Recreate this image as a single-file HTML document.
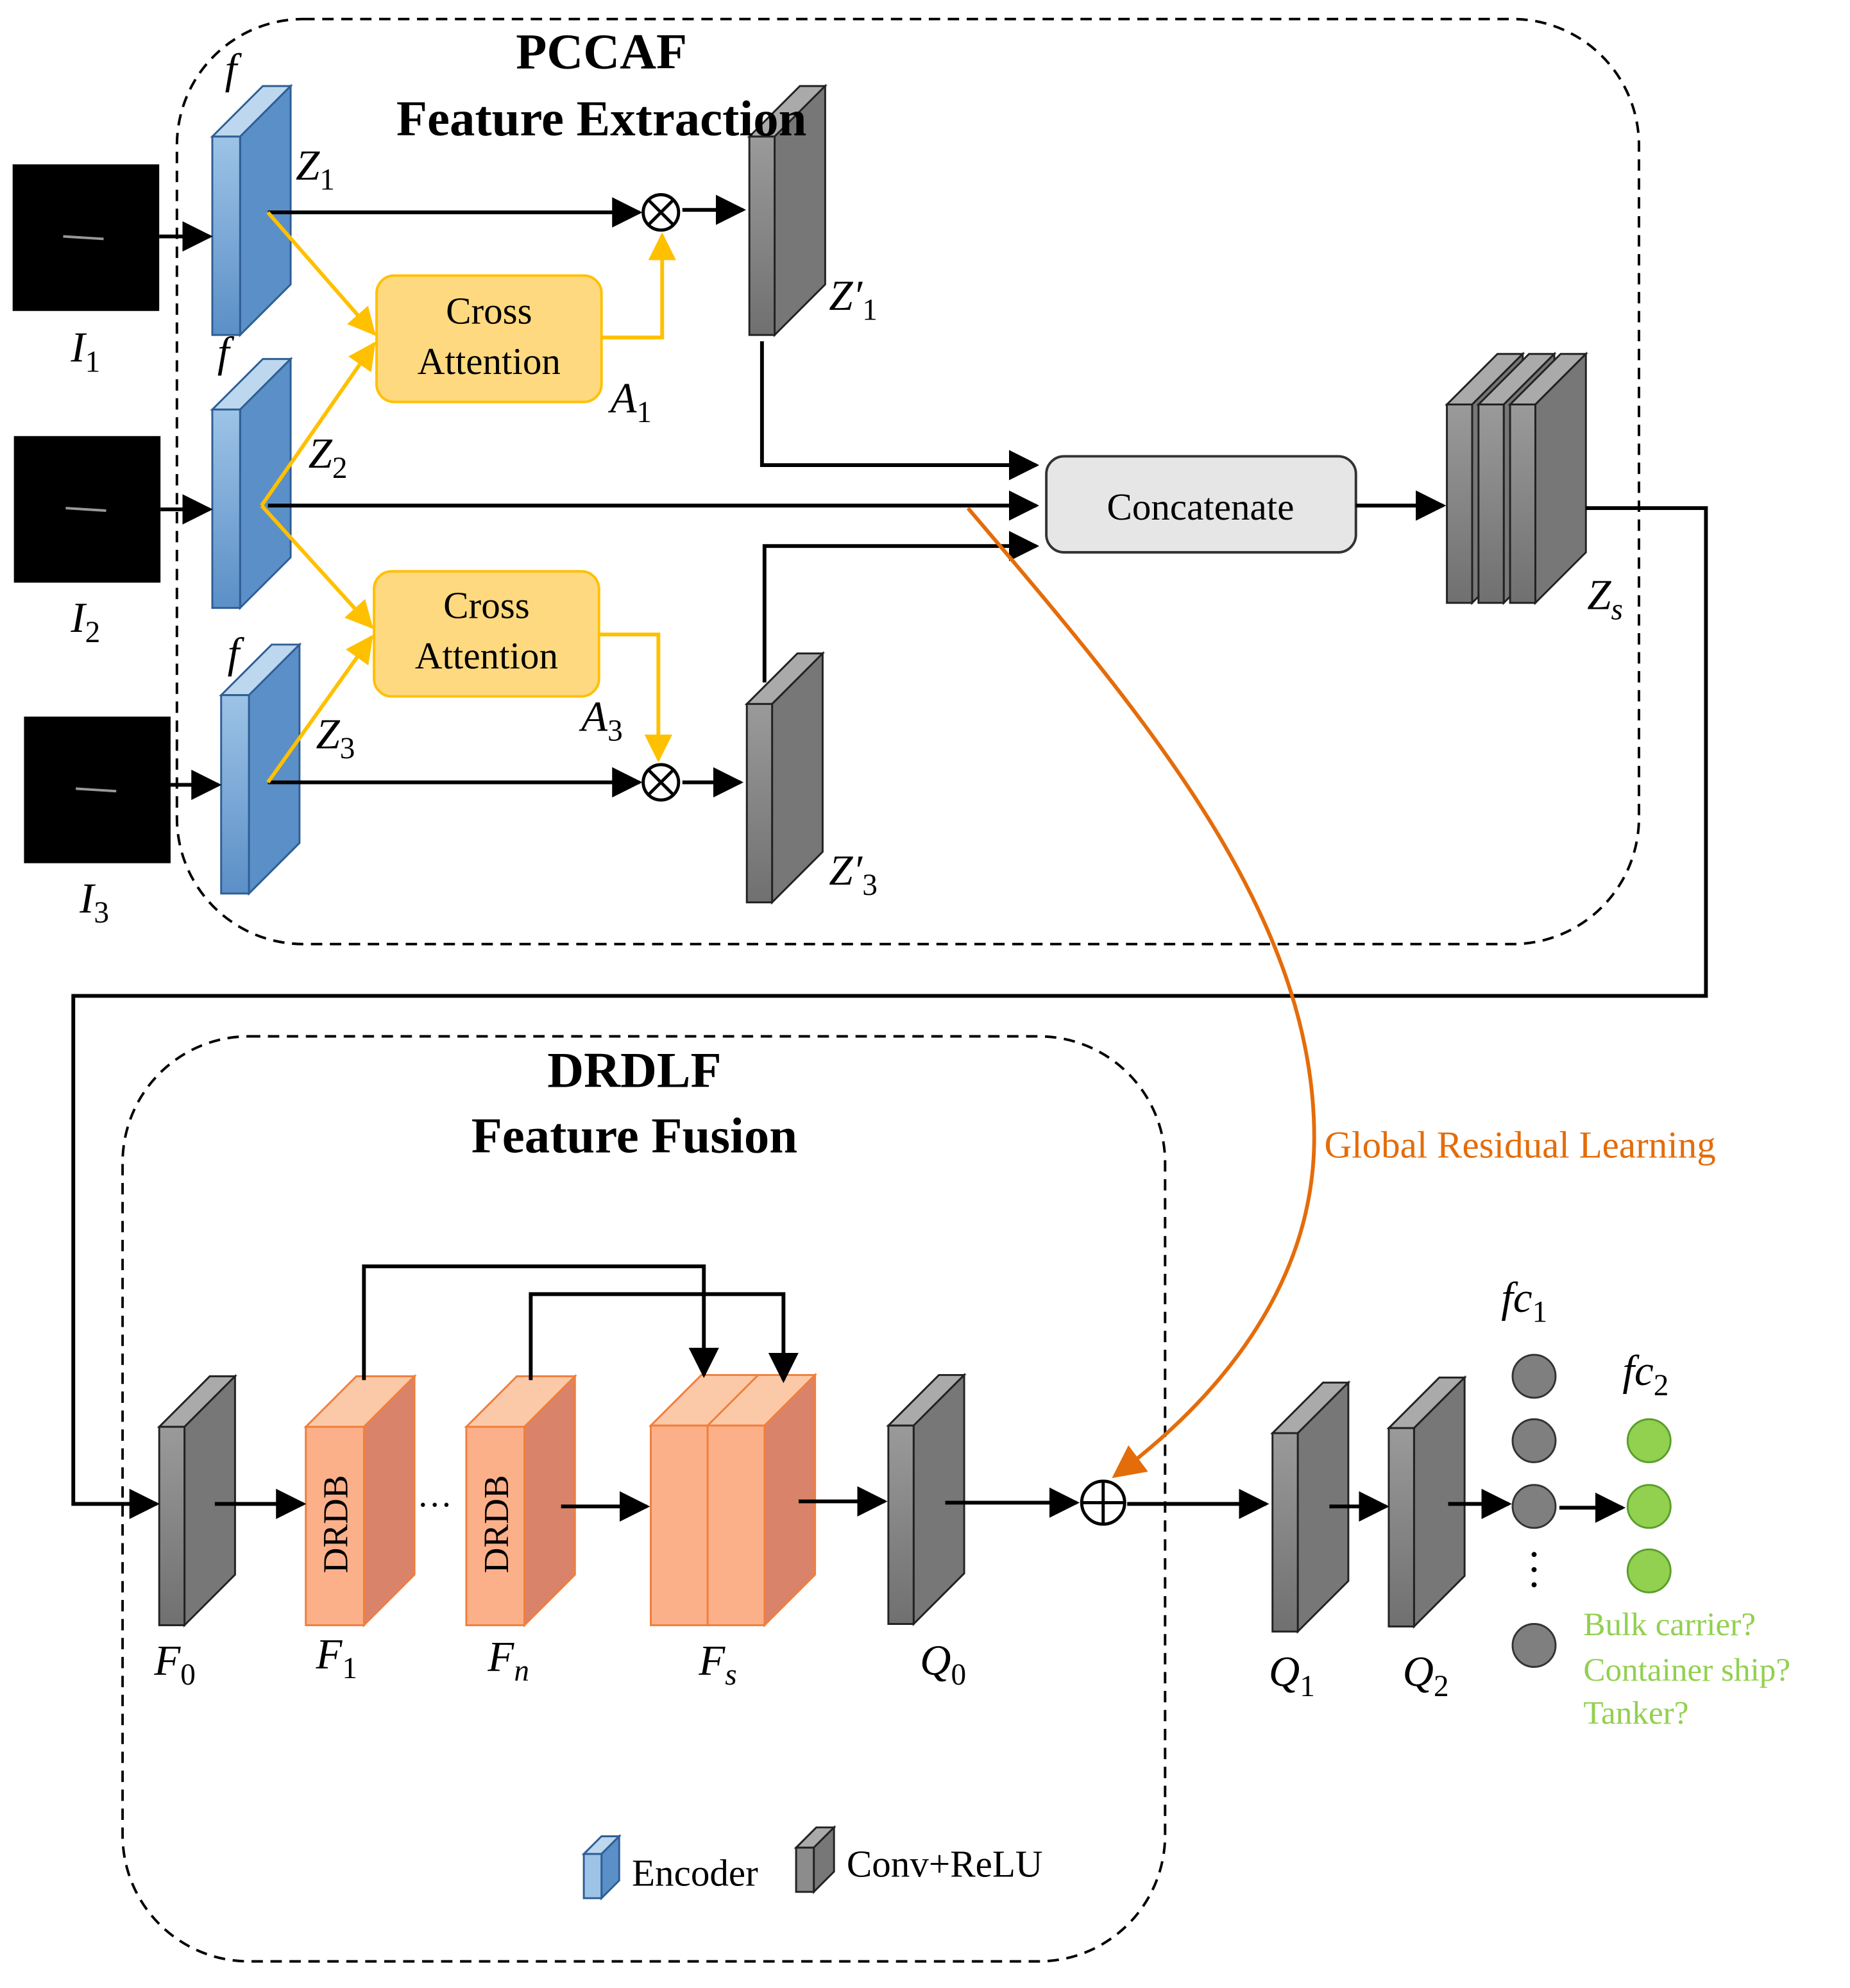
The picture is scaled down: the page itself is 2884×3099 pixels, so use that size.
<!DOCTYPE html>
<html><head><meta charset="utf-8"><style>html,body{margin:0;padding:0;background:#fff}svg{display:block}</style></head>
<body>
<svg width="2884" height="3099" viewBox="0 0 1464 1573" xmlns="http://www.w3.org/2000/svg" font-family="Liberation Serif, serif">
<defs>
<marker id="a" viewBox="0 0 10 10" markerWidth="24" markerHeight="24" refX="9" refY="5" orient="auto" markerUnits="userSpaceOnUse"><path d="M0,0 L10,5 L0,10z" fill="#000"/></marker>
<marker id="ay" viewBox="0 0 10 10" markerWidth="22" markerHeight="22" refX="9" refY="5" orient="auto" markerUnits="userSpaceOnUse"><path d="M0,0 L10,5 L0,10z" fill="#ffc000"/></marker>
<marker id="ao" viewBox="0 0 10 10" markerWidth="26" markerHeight="26" refX="9" refY="5" orient="auto" markerUnits="userSpaceOnUse"><path d="M0,0 L10,5 L0,10z" fill="#e46c0a"/></marker>
<linearGradient id="gb" x1="0" y1="0" x2="0" y2="1"><stop offset="0" stop-color="#9dc3e6"/><stop offset="1" stop-color="#5b8fc7"/></linearGradient>
<linearGradient id="gg" x1="0" y1="0" x2="0" y2="1"><stop offset="0" stop-color="#9a9a9a"/><stop offset="1" stop-color="#707070"/></linearGradient>
</defs>

<rect x="140" y="15" width="1157" height="732" rx="100" fill="none" stroke="#000" stroke-width="2" stroke-dasharray="9,6"/>
<rect x="97" y="820" width="825" height="732" rx="100" fill="none" stroke="#000" stroke-width="2" stroke-dasharray="9,6"/>

<rect x="10" y="130" width="116" height="116" fill="#000"/>
<rect x="11" y="345" width="116" height="116" fill="#000"/>
<rect x="19" y="567" width="116" height="116" fill="#000"/>
<line x1="50" y1="187" x2="82" y2="189" stroke="#999" stroke-width="2"/>
<line x1="52" y1="402" x2="84" y2="404" stroke="#999" stroke-width="2"/>
<line x1="60" y1="624" x2="92" y2="626" stroke="#999" stroke-width="2"/>
<g font-style="italic" font-size="34">
<text x="56" y="286">I<tspan font-size="24" font-style="normal" dy="8">1</tspan></text>
<text x="56" y="500">I<tspan font-size="24" font-style="normal" dy="8">2</tspan></text>
<text x="63" y="722">I<tspan font-size="24" font-style="normal" dy="8">3</tspan></text>
</g>

<g stroke="#2e5e95" stroke-width="1.5">
<path d="M168,108 L208,68 L230,68 L190,108z" fill="#bdd7ee"/><path d="M190,108 L230,68 L230,225 L190,265z" fill="#5b8fc7"/><rect x="168" y="108" width="22" height="157" fill="url(#gb)"/>
<path d="M168,324 L208,284 L230,284 L190,324z" fill="#bdd7ee"/><path d="M190,324 L230,284 L230,441 L190,481z" fill="#5b8fc7"/><rect x="168" y="324" width="22" height="157" fill="url(#gb)"/>
<path d="M175,550 L215,510 L237,510 L197,550z" fill="#bdd7ee"/><path d="M197,550 L237,510 L237,667 L197,707z" fill="#5b8fc7"/><rect x="175" y="550" width="22" height="157" fill="url(#gb)"/>
</g>
<g font-style="italic" font-size="34">
<text x="178" y="66">f</text><text x="172" y="290">f</text><text x="180" y="528">f</text>
<text x="234" y="142">Z<tspan font-size="24" font-style="normal" dy="8">1</tspan></text>
<text x="244" y="370">Z<tspan font-size="24" font-style="normal" dy="8">2</tspan></text>
<text x="250" y="592">Z<tspan font-size="24" font-style="normal" dy="8">3</tspan></text>
<text x="656" y="245">Z′<tspan font-size="24" font-style="normal" dy="8">1</tspan></text>
<text x="656" y="700">Z′<tspan font-size="24" font-style="normal" dy="8">3</tspan></text>
<text x="1256" y="482">Z<tspan font-size="24" dy="8">s</tspan></text>
<text x="483" y="326">A<tspan font-size="24" font-style="normal" dy="8">1</tspan></text>
<text x="460" y="578">A<tspan font-size="24" font-style="normal" dy="8">3</tspan></text>
</g>

<g stroke="#222" stroke-width="1.5">
<path d="M593,108 L633,68 L653,68 L613,108z" fill="#aaa"/><path d="M613,108 L653,68 L653,225 L613,265z" fill="#777"/><rect x="593" y="108" width="20" height="157" fill="url(#gg)"/>
<path d="M591,557 L631,517 L651,517 L611,557z" fill="#aaa"/><path d="M611,557 L651,517 L651,674 L611,714z" fill="#777"/><rect x="591" y="557" width="20" height="157" fill="url(#gg)"/>
<path d="M1145,320 L1185,280 L1205,280 L1165,320z" fill="#aaa"/><path d="M1165,320 L1205,280 L1205,437 L1165,477z" fill="#777"/><rect x="1145" y="320" width="20" height="157" fill="url(#gg)"/>
<path d="M1170,320 L1210,280 L1230,280 L1190,320z" fill="#aaa"/><path d="M1190,320 L1230,280 L1230,437 L1190,477z" fill="#777"/><rect x="1170" y="320" width="20" height="157" fill="url(#gg)"/>
<path d="M1195,320 L1235,280 L1255,280 L1215,320z" fill="#aaa"/><path d="M1215,320 L1255,280 L1255,437 L1215,477z" fill="#777"/><rect x="1195" y="320" width="20" height="157" fill="url(#gg)"/>
<path d="M126,1129 L166,1089 L186,1089 L146,1129z" fill="#aaa"/><path d="M146,1129 L186,1089 L186,1246 L146,1286z" fill="#777"/><rect x="126" y="1129" width="20" height="157" fill="url(#gg)"/>
<path d="M703,1128 L743,1088 L763,1088 L723,1128z" fill="#aaa"/><path d="M723,1128 L763,1088 L763,1245 L723,1285z" fill="#777"/><rect x="703" y="1128" width="20" height="157" fill="url(#gg)"/>
<path d="M1007,1134 L1047,1094 L1067,1094 L1027,1134z" fill="#aaa"/><path d="M1027,1134 L1067,1094 L1067,1251 L1027,1291z" fill="#777"/><rect x="1007" y="1134" width="20" height="157" fill="url(#gg)"/>
<path d="M1099,1130 L1139,1090 L1159,1090 L1119,1130z" fill="#aaa"/><path d="M1119,1130 L1159,1090 L1159,1247 L1119,1287z" fill="#777"/><rect x="1099" y="1130" width="20" height="157" fill="url(#gg)"/>
</g>

<text x="476" y="54" font-size="40" font-weight="bold" text-anchor="middle">PCCAF</text>
<text x="476" y="107" font-size="40" font-weight="bold" text-anchor="middle">Feature Extraction</text>
<text x="502" y="860" font-size="40" font-weight="bold" text-anchor="middle">DRDLF</text>
<text x="502" y="912" font-size="40" font-weight="bold" text-anchor="middle">Feature Fusion</text>

<g stroke="#f07f3c" stroke-width="1.5">
<path d="M242,1129 L282,1089 L328,1089 L288,1129z" fill="#fcc9a8"/><path d="M288,1129 L328,1089 L328,1246 L288,1286z" fill="#d9836a"/><rect x="242" y="1129" width="46" height="157" fill="#fbb08a"/>
<path d="M369,1129 L409,1089 L455,1089 L415,1129z" fill="#fcc9a8"/><path d="M415,1129 L455,1089 L455,1246 L415,1286z" fill="#d9836a"/><rect x="369" y="1129" width="46" height="157" fill="#fbb08a"/>
<path d="M515,1128 L555,1088 L600,1088 L560,1128z" fill="#fcc9a8"/><rect x="515" y="1128" width="45" height="158" fill="#fbb08a"/>
<path d="M560,1128 L600,1088 L645,1088 L605,1128z" fill="#fcc9a8"/><path d="M605,1128 L645,1088 L645,1246 L605,1286z" fill="#d9836a"/><rect x="560" y="1128" width="45" height="158" fill="#fbb08a"/>
</g>
<text transform="translate(275,1206) rotate(-90)" font-size="28" text-anchor="middle">DRDB</text>
<text transform="translate(402,1206) rotate(-90)" font-size="28" text-anchor="middle">DRDB</text>
<text x="330" y="1200" font-size="28">···</text>

<g font-style="italic" font-size="34">
<text x="122" y="1325">F<tspan font-size="24" font-style="normal" dy="8">0</tspan></text>
<text x="250" y="1320">F<tspan font-size="24" font-style="normal" dy="8">1</tspan></text>
<text x="386" y="1322">F<tspan font-size="24" dy="8">n</tspan></text>
<text x="553" y="1325">F<tspan font-size="24" dy="8">s</tspan></text>
<text x="728" y="1325">Q<tspan font-size="24" font-style="normal" dy="8">0</tspan></text>
<text x="1004" y="1334">Q<tspan font-size="24" font-style="normal" dy="8">1</tspan></text>
<text x="1110" y="1334">Q<tspan font-size="24" font-style="normal" dy="8">2</tspan></text>
<text x="1188" y="1038">fc<tspan font-size="24" font-style="normal" dy="8">1</tspan></text>
<text x="1284" y="1096">fc<tspan font-size="24" font-style="normal" dy="8">2</tspan></text>
</g>

<rect x="298" y="218" width="178" height="100" rx="14" fill="#fed97f" stroke="#ffc000" stroke-width="2"/>
<rect x="296" y="452" width="178" height="99" rx="14" fill="#fed97f" stroke="#ffc000" stroke-width="2"/>
<g font-size="30" text-anchor="middle">
<text x="387" y="256">Cross</text><text x="387" y="296">Attention</text>
<text x="385" y="489">Cross</text><text x="385" y="529">Attention</text>
</g>
<rect x="828" y="361" width="245" height="76" rx="14" fill="#e6e6e6" stroke="#333" stroke-width="2"/>
<text x="950" y="411" font-size="30" text-anchor="middle">Concatenate</text>

<g stroke="#000" stroke-width="3" fill="none">
<line x1="126" y1="187" x2="166" y2="187" marker-end="url(#a)"/>
<line x1="127" y1="403" x2="166" y2="403" marker-end="url(#a)"/>
<line x1="135" y1="621" x2="173" y2="621" marker-end="url(#a)"/>
<line x1="212" y1="168" x2="506" y2="168" marker-end="url(#a)"/>
<line x1="540" y1="166" x2="588" y2="166" marker-end="url(#a)"/>
<line x1="212" y1="619" x2="506" y2="619" marker-end="url(#a)"/>
<line x1="540" y1="619" x2="586" y2="619" marker-end="url(#a)"/>
<polyline points="603,270 603,368 820,368" marker-end="url(#a)"/>
<line x1="212" y1="400" x2="820" y2="400" marker-end="url(#a)"/>
<polyline points="605,540 605,432 820,432" marker-end="url(#a)"/>
<line x1="1073" y1="400" x2="1142" y2="400" marker-end="url(#a)"/>
<polyline points="1255,402 1350,402 1350,788 58,788 58,1190 124,1190" marker-end="url(#a)"/>
<line x1="170" y1="1190" x2="240" y2="1190" marker-end="url(#a)"/>
<line x1="444" y1="1192" x2="512" y2="1192" marker-end="url(#a)"/>
<line x1="632" y1="1188" x2="700" y2="1188" marker-end="url(#a)"/>
<line x1="748" y1="1189" x2="852" y2="1189" marker-end="url(#a)"/>
<line x1="892" y1="1190" x2="1002" y2="1190" marker-end="url(#a)"/>
<line x1="1052" y1="1192" x2="1097" y2="1192" marker-end="url(#a)"/>
<line x1="1146" y1="1190" x2="1194" y2="1190" marker-end="url(#a)"/>
<line x1="1234" y1="1193" x2="1284" y2="1193" marker-end="url(#a)"/>
<polyline points="288,1092 288,1002 557,1002 557,1088" marker-end="url(#a)"/>
<polyline points="420,1092 420,1024 620,1024 620,1092" marker-end="url(#a)"/>
</g>
<g stroke="#000" stroke-width="2.5" fill="#fff">
<circle cx="523" cy="168" r="14"/><line x1="513" y1="158" x2="533" y2="178"/><line x1="533" y1="158" x2="513" y2="178"/>
<circle cx="523" cy="619" r="14"/><line x1="513" y1="609" x2="533" y2="629"/><line x1="533" y1="609" x2="513" y2="629"/>
<circle cx="873" cy="1189" r="17"/><line x1="856" y1="1189" x2="890" y2="1189"/><line x1="873" y1="1172" x2="873" y2="1206"/>
</g>

<g stroke="#ffc000" stroke-width="3" fill="none">
<line x1="212" y1="168" x2="296" y2="264" marker-end="url(#ay)"/>
<line x1="207" y1="400" x2="296" y2="272" marker-end="url(#ay)"/>
<line x1="207" y1="400" x2="294" y2="496" marker-end="url(#ay)"/>
<line x1="212" y1="619" x2="294" y2="504" marker-end="url(#ay)"/>
<polyline points="476,267 524,267 524,186" marker-end="url(#ay)"/>
<polyline points="474,502 521,502 521,601" marker-end="url(#ay)"/>
</g>

<path d="M766,402 C900,560 1040,720 1040,900 C1040,1020 960,1110 882,1168" stroke="#e46c0a" stroke-width="3" fill="none" marker-end="url(#ao)"/>
<text x="1048" y="916" font-size="30" fill="#e46c0a">Global Residual Learning</text>

<g fill="#7f7f7f" stroke="#333" stroke-width="1.5">
<circle cx="1214" cy="1089" r="17"/><circle cx="1214" cy="1140" r="17"/><circle cx="1214" cy="1192" r="17"/><circle cx="1214" cy="1302" r="17"/>
</g>
<g fill="#000"><circle cx="1214" cy="1230" r="2"/><circle cx="1214" cy="1242" r="2"/><circle cx="1214" cy="1254" r="2"/></g>
<g fill="#92d050" stroke="#5a9e2c" stroke-width="1.5">
<circle cx="1305" cy="1140" r="17"/><circle cx="1305" cy="1192" r="17"/><circle cx="1305" cy="1243" r="17"/>
</g>
<g font-size="26" fill="#92d050">
<text x="1253" y="1294">Bulk carrier?</text>
<text x="1253" y="1330">Container ship?</text>
<text x="1253" y="1364">Tanker?</text>
</g>

<g stroke="#2e5e95" stroke-width="1.5">
<path d="M462,1467 L476,1453 L490,1453 L476,1467z" fill="#bdd7ee"/><path d="M476,1467 L490,1453 L490,1488 L476,1502z" fill="#5b8fc7"/><rect x="462" y="1467" width="14" height="35" fill="#9dc3e6"/>
</g>
<g stroke="#222" stroke-width="1.5">
<path d="M630,1462 L646,1446 L660,1446 L644,1462z" fill="#aaa"/><path d="M644,1462 L660,1446 L660,1481 L644,1497z" fill="#777"/><rect x="630" y="1462" width="14" height="35" fill="#8c8c8c"/>
</g>
<text x="500" y="1492" font-size="30">Encoder</text>
<text x="670" y="1485" font-size="30">Conv+ReLU</text>
</svg>
</body></html>
